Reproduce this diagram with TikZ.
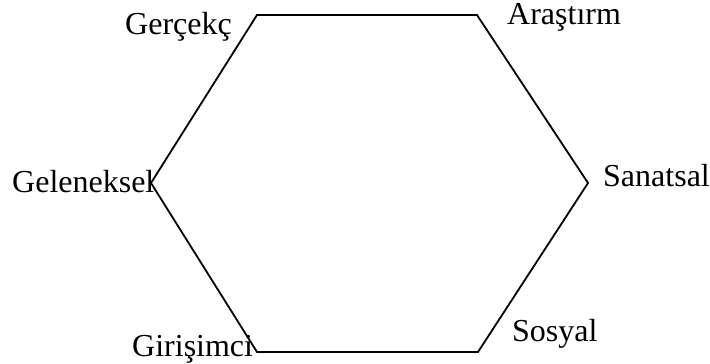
\documentclass[tikz,border=0pt]{standalone}
\usepackage{fontspec}
\setmainfont{Liberation Serif}
\begin{document}
\begin{tikzpicture}[x=1pt,y=1pt,
  lbl/.style={anchor=base west,inner sep=0pt,font=\fontsize{32}{38}\selectfont},
  edge/.style={draw=black,line width=1.8pt,line join=miter}]
\useasboundingbox (0,0) rectangle (710,364);
\coordinate (tl) at (257,349);
\coordinate (tr) at (477,349);
\coordinate (r) at (588,181);
\coordinate (br) at (478,12);
\coordinate (bl) at (257,12);
\coordinate (l) at (151,181);
\draw[edge] (tl) -- (tr) -- (r) -- (br) -- (bl) -- (l) -- cycle;
\node[lbl] (g1) at (125,329) {Gerçekç};
\node[lbl] (a1) at (507,339) {Araştırm};
\node[lbl] (g2) at (12,171) {Geleneksel};
\node[lbl] (s1) at (603,177) {Sanatsal};
\node[lbl] (g3) at (132,7) {Girişimci};
\node[lbl] (s2) at (512,22) {Sosyal};
\end{tikzpicture}
\end{document}
